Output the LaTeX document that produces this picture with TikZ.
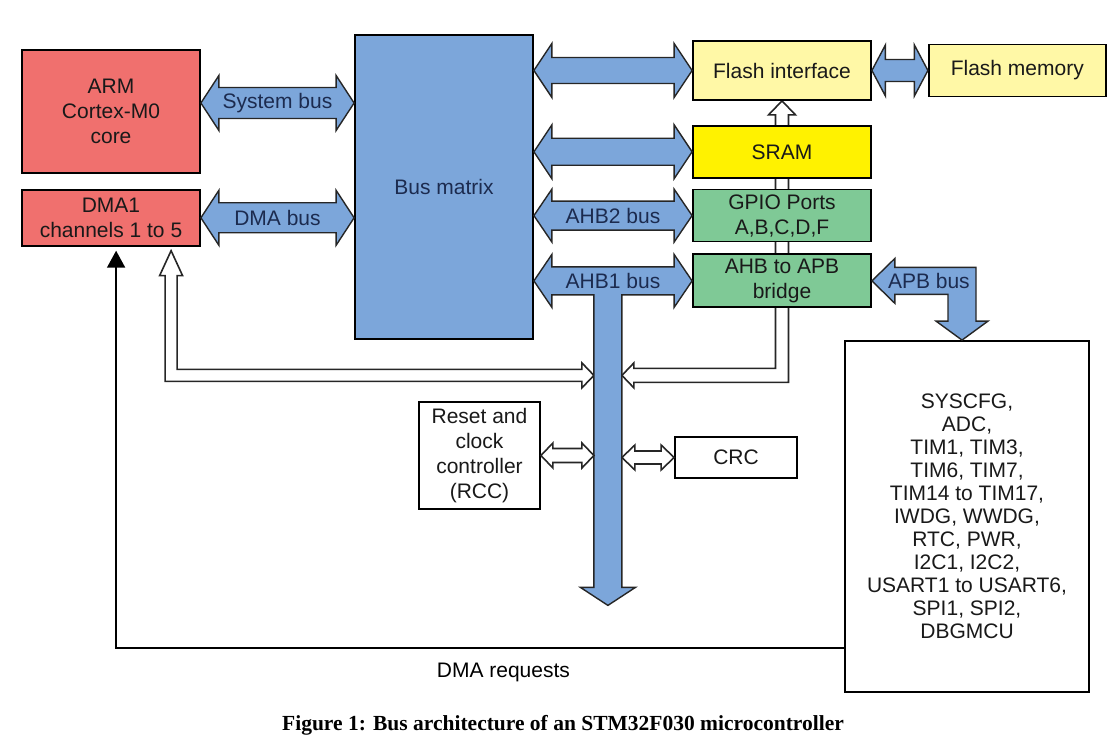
\documentclass[tikz,border=0pt]{standalone}
\usepackage{fontspec}
\setmainfont{Liberation Sans}
\newfontfamily\capfont{Liberation Serif}
\usetikzlibrary{arrows.meta,calc,positioning,backgrounds}
\definecolor{cortexred}{HTML}{F0706E}
\definecolor{busblue}{HTML}{7CA6DA}
\definecolor{flashyellow}{HTML}{FFF8A6}
\definecolor{sramyellow}{HTML}{FFF200}
\definecolor{ahbgreen}{HTML}{7FC996}
\definecolor{busnavy}{HTML}{1C2B4F}

% style, left end, right end (x only), half shaft, half head, head length, label
\newcommand{\dblarrow}[7]{%
  \draw[#1] let \p1=#2, \p2=#3 in
    (\p1) -- (\x1+#6,\y1+#5) -- (\x1+#6,\y1+#4) -- (\x2-#6,\y1+#4) -- (\x2-#6,\y1+#5)
    -- (\x2,\y1) -- (\x2-#6,\y1-#5) -- (\x2-#6,\y1-#4) -- (\x1+#6,\y1-#4) -- (\x1+#6,\y1-#5) -- cycle
    ({(\x1+\x2)/2},\y1) node[buslabel] {#7};}

\begin{document}
\begin{tikzpicture}[x=0.5pt, y=-0.5pt,
    font=\fontsize{10.5}{12.5}\selectfont,
    block/.style={draw=black, line width=0.9pt, align=center, inner sep=0pt,
      minimum width=89pt, minimum height=26pt, text=black!90},
    cpu/.style={block, fill=cortexred},
    memblock/.style={block, fill=flashyellow},
    ahb/.style={block, fill=ahbgreen},
    whitebox/.style={block, fill=white},
    bus/.style={draw=black!85, line width=0.7pt, fill=busblue},
    hollow/.style={draw=black!85, line width=0.8pt, fill=white},
    buslabel/.style={text=busnavy, inner sep=0pt},
    request/.style={-{Triangle[length=8.5pt,width=9pt]}, line width=0.9pt}
  ]
    \useasboundingbox (0,0) rectangle (1108,748);

    \node[cpu, minimum height=61.5pt] (core) at (111,111.5) {ARM\\Cortex-M0\\core};
    \node[cpu, minimum height=28pt, below=7.5pt of core] (dma) {DMA1\\channels 1 to 5};
    \node[block, fill=busblue, text=busnavy, minimum height=152pt] (matrix) at (444,187) {Bus matrix};

    \node[memblock, minimum height=29.5pt] (flashif) at (782,70.5) {Flash interface};
    \node[memblock, minimum width=88.5pt, right=28pt of flashif] (flashmem) {Flash memory};
    \node[memblock, fill=sramyellow, below=12pt of flashif] (sram) {SRAM};
    \node[ahb, below=5pt of sram] (gpio) {GPIO Ports\\A,B,C,D,F};
    \node[ahb, minimum height=26.5pt, below=5.5pt of gpio] (bridge) {AHB to APB\\bridge};

    \node[whitebox, minimum width=60.5pt, minimum height=53.5pt] (rcc) at (479.5,455.5) {Reset and\\clock\\controller\\(RCC)};
    \node[whitebox, minimum width=61pt, minimum height=20.5pt] (crc) at (736,457.5) {CRC};
    \node[whitebox, minimum width=122pt, minimum height=175.5pt, font=\fontsize{10.5}{11.5}\selectfont] (periph) at (967,516.5)
      {SYSCFG,\\ADC,\\TIM1, TIM3,\\TIM6, TIM7,\\TIM14 to TIM17,\\IWDG, WWDG,\\RTC, PWR,\\I2C1, I2C2,\\USART1 to USART6,\\SPI1, SPI2,\\DBGMCU};

    \node[font={\capfont\bfseries\fontsize{10.75}{13}\selectfont}] (caption) at (563,725)
      {Figure 1: Bus architecture of an STM32F030 microcontroller};

    \coordinate (trunk) at ($(matrix.east |- bridge.west)+(74,0)$);
    \coordinate (jnl) at ($(trunk)+(-14,94.5)$);
    \coordinate (jnr) at ($(trunk)+(14,94.5)$);
    \coordinate (dmain) at ([xshift=75pt,yshift=-2pt]dma.south west);
    \coordinate (reqin) at ([xshift=47.5pt,yshift=-2pt]dma.south west);
    \coordinate (reqout) at ([yshift=22.5pt]periph.south west);

    % hollow paths behind the blocks
    \begin{pgfonlayer}{background}
      \draw[hollow] let \p1=(dmain), \p2=(jnl) in
        (\p1) -- (\x1+5.75pt,\y1-12.5pt) -- (\x1+3pt,\y1-12.5pt) -- (\x1+3pt,\y2+3pt)
        -- (\x2-6pt,\y2+3pt) -- (\x2-6pt,\y2+6.25pt) -- (\p2) -- (\x2-6pt,\y2-6.25pt)
        -- (\x2-6pt,\y2-3pt) -- (\x1-3pt,\y2-3pt) -- (\x1-3pt,\y1-12.5pt) -- (\x1-5.75pt,\y1-12.5pt) -- cycle;
      \draw[hollow] let \p1=(flashif.south), \p2=(jnr) in
        (\p1) -- (\x1+6.75pt,\y1-7pt) -- (\x1+3.25pt,\y1-7pt) -- (\x1+3.25pt,\y2-3.5pt)
        -- (\x2+6pt,\y2-3.5pt) -- (\x2+6pt,\y2-6.25pt) -- (\p2) -- (\x2+6pt,\y2+6.25pt)
        -- (\x2+6pt,\y2+3.5pt) -- (\x1-3.25pt,\y2+3.5pt) -- (\x1-3.25pt,\y1-7pt) -- (\x1-6.75pt,\y1-7pt) -- cycle;
    \end{pgfonlayer}

    \dblarrow{bus}{($(core.east)+(0,-8.5)$)}{(matrix.west)}{7.75pt}{13.75pt}{9pt}{System bus}
    \dblarrow{bus}{(dma.east)}{(matrix.west)}{7.5pt}{13.75pt}{9pt}{DMA bus}
    \dblarrow{bus}{(matrix.east |- flashif.west)}{(flashif.west)}{6.5pt}{13.5pt}{9pt}{}
    \dblarrow{bus}{(matrix.east |- sram.west)}{(sram.west)}{6.75pt}{13.5pt}{9pt}{}
    \dblarrow{bus}{(matrix.east |- gpio.west)}{(gpio.west)}{7.25pt}{13.25pt}{9pt}{AHB2 bus}
    \dblarrow{bus}{(flashif.east)}{(flashmem.west)}{5.5pt}{12.75pt}{6.75pt}{}

    \draw[bus] let \p1=(matrix.east |- bridge.west), \p2=(bridge.west), \p3=(trunk) in
      (\p1) -- (\x1+9pt,\y1+13.25pt) -- (\x1+9pt,\y1+7pt) -- (\x2-9pt,\y1+7pt) -- (\x2-9pt,\y1+13.25pt)
      -- (\p2) -- (\x2-9pt,\y1-13.25pt) -- (\x2-9pt,\y1-7pt) -- (\x3+7pt,\y1-7pt)
      -- (\x3+7pt,\y1-153.25pt) -- (\x3+13.75pt,\y1-153.25pt) -- (\x3,\y1-162.25pt)
      -- (\x3-13.75pt,\y1-153.25pt) -- (\x3-7pt,\y1-153.25pt) -- (\x3-7pt,\y1-7pt)
      -- (\x1+9pt,\y1-7pt) -- (\x1+9pt,\y1-13.25pt) -- cycle
      ({(\x1+\x2)/2},\y1) node[buslabel] {AHB1 bus};
    \draw[bus] let \p1=(bridge.east), \p2=([xshift=-2.5pt]periph.north) in
      (\p1) -- (\x1+11.5pt,\y1+11.25pt) -- (\x1+11.5pt,\y1+6.75pt) -- (\x2+7pt,\y1+6.75pt)
      -- (\x2+7pt,\y2+9.5pt) -- (\x2+13pt,\y2+9.5pt) -- (\p2) -- (\x2-13pt,\y2+9.5pt)
      -- (\x2-7pt,\y2+9.5pt) -- (\x2-7pt,\y1-6.75pt) -- (\x1+11.5pt,\y1-6.75pt) -- (\x1+11.5pt,\y1-11.25pt) -- cycle
      (\x1+28.5pt,\y1) node[buslabel] {APB bus};

    \dblarrow{hollow}{(rcc.east)}{(jnl)}{3.5pt}{6.25pt}{6pt}{}
    \dblarrow{hollow}{(jnr |- crc.west)}{(crc.west)}{3.25pt}{6.25pt}{6.5pt}{}

    \draw[request] (reqout) -| node[pos=0.234, yshift=-12.5pt] {DMA requests} (reqin);
\end{tikzpicture}
\end{document}
